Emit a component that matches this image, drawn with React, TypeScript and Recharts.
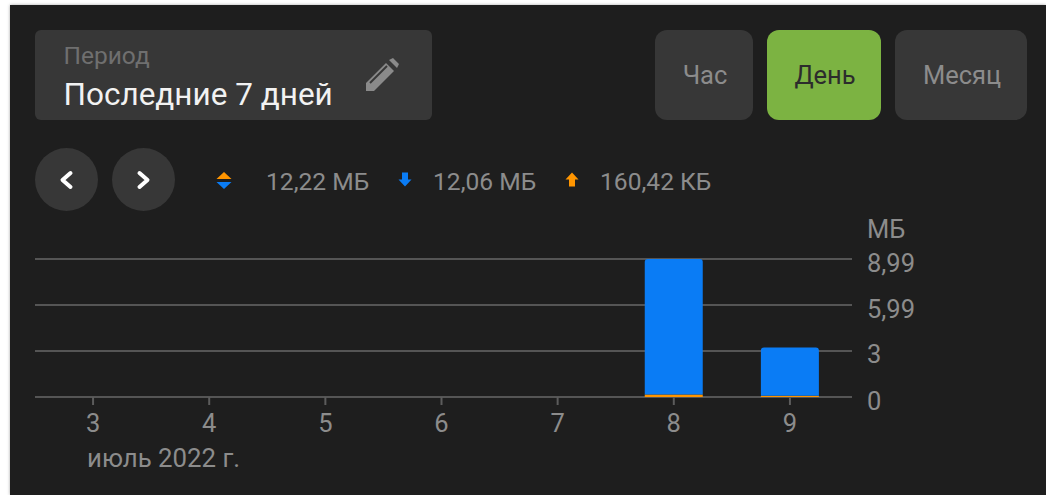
import React from 'react';
import { BarChart, Bar, XAxis, YAxis, CartesianGrid } from 'recharts';

const days = ['3', '4', '5', '6', '7', '8', '9'];
const upload = [0, 0, 0, 0, 0, 0.16, 0.08];
const download = [0, 0, 0, 0, 0, 8.83, 3.15];
const yTicks = [0, 3, 5.99, 8.99];
const data = days.map((d, i) => ({ day: d, upload: upload[i], download: download[i] }));

const font = 'Roboto, sans-serif';
const box = (l: number, t: number, w: number, h: number, bg: string, r: number): React.CSSProperties => ({
  position: 'absolute', left: l, top: t, width: w, height: h, background: bg, borderRadius: r,
});
const txt = (l: number, t: number, size: number, color: string): React.CSSProperties => ({
  position: 'absolute', left: l, top: t, fontSize: size, color, fontFamily: font, lineHeight: `${Math.round(size) + 4}px`, whiteSpace: 'nowrap',
});
const centered = (size: number, color: string): React.CSSProperties => ({
  display: 'flex', alignItems: 'center', justifyContent: 'center', fontSize: size, color, fontFamily: font, paddingLeft: 2, boxSizing: 'border-box',
});

const YTick = (p: any) => (
  <text x={867} y={p.y + 12.5} fill="#8c8c8c" fontSize={25.5} fontFamily={font} textAnchor="start">
    {String(p.payload.value).replace('.', ',')}
  </text>
);
const XTick = (p: any) => (
  <g>
    <line x1={p.x} x2={p.x} y1={397} y2={405} stroke="#5c5c5c" strokeWidth={2} />
    <text x={p.x} y={432} fill="#8c8c8c" fontSize={25.5} fontFamily={font} textAnchor="middle">
      {p.payload.value}
    </text>
  </g>
);

const Arrow = ({ x, y, color, up }: { x: number; y: number; color: string; up: boolean }) => (
  <svg style={{ position: 'absolute', left: x, top: y }} width={14} height={15} viewBox="0 0 14 15">
    <path d={up ? 'M7 0.5L13.5 7.5H10V14.5H4V7.5H0.5Z' : 'M7 14.5L13.5 7.5H10V0.5H4V7.5H0.5Z'} fill={color} />
  </svg>
);

export default function App() {
  return (
    <div style={{ position: 'absolute', left: 0, top: 0, width: 1046, height: 495, background: '#fff', overflow: 'hidden' }}>
      <div style={{ ...box(10, 5, 1036, 490, '#1e1e1e', 0), boxShadow: '0 0 3px rgba(0,0,0,0.35)' }} />

      <div style={box(35, 30, 397, 90, '#373737', 6)} />
      <div style={txt(63.5, 41, 24.5, '#6f6f6f')}>Период</div>
      <div style={txt(63.5, 77, 31.5, '#f2f2f2')}>Последние 7 дней</div>
      <svg style={{ position: 'absolute', left: 364, top: 57 }} width={36} height={36} viewBox="0 0 36 36">
        <path d="M2 26L22 6L30 14L10 34H2Z M25 3L29 1L35 7L33 11Z" fill="#8a8a8a" />
        <path d="M6 26L23 9" stroke="#373737" strokeWidth={2} />
      </svg>

      <div style={{ ...box(655, 30, 98, 90, '#373737', 12), ...centered(25.5, '#8c8c8c') }}>Час</div>
      <div style={{ ...box(767, 30, 114, 90, '#7cb342', 12), ...centered(25.5, '#2c2c2c') }}>День</div>
      <div style={{ ...box(895, 30, 132, 90, '#373737', 12), ...centered(25.5, '#8c8c8c') }}>Месяц</div>

      <div style={box(35, 148, 63, 63, '#373737', 32)} />
      <div style={box(112, 148, 63, 63, '#373737', 32)} />
      <svg style={{ position: 'absolute', left: 35, top: 148 }} width={140} height={63}>
        <path d="M35.5 25L27.5 32L35.5 39" fill="none" stroke="#fff" strokeWidth={4} strokeLinecap="round" strokeLinejoin="round" />
        <path d="M104.5 25L112.5 32L104.5 39" fill="none" stroke="#fff" strokeWidth={4} strokeLinecap="round" strokeLinejoin="round" />
      </svg>

      <svg style={{ position: 'absolute', left: 216, top: 171 }} width={16} height={20}>
        <path d="M8 1L15.5 8H0.5Z" fill="#ff9500" />
        <path d="M8 18L15.5 11H0.5Z" fill="#0a7cf5" />
      </svg>
      <div style={txt(266, 167, 24.6, '#8c8c8c')}>12,22 МБ</div>
      <Arrow x={398} y={172} color="#0a7cf5" up={false} />
      <div style={txt(433, 167, 24.6, '#8c8c8c')}>12,06 МБ</div>
      <Arrow x={565} y={172} color="#ff9500" up />
      <div style={txt(600, 167, 24.6, '#8c8c8c')}>160,42 КБ</div>

      <div style={{ position: 'absolute', left: 0, top: 0 }}>
        <BarChart width={1046} height={495} data={data} margin={{ top: 259, right: 193, bottom: 97, left: 35 }} barCategoryGap="25%">
          <CartesianGrid horizontal vertical={false} stroke="#555" strokeWidth={2} />
          <XAxis dataKey="day" height={1} padding={{ left: 0, right: 4 }} axisLine={false} tickLine={false} tick={<XTick />} interval={0} />
          <YAxis orientation="right" width={1} domain={[0, 8.99]} ticks={yTicks} axisLine={false} tickLine={false} tick={<YTick />} interval={0} />
          <Bar dataKey="upload" stackId="a" fill="#ff9500" isAnimationActive={false} />
          <Bar dataKey="download" stackId="a" fill="#0a7cf5" radius={[3, 3, 0, 0]} isAnimationActive={false} />
        </BarChart>
      </div>

      <div style={txt(867, 214, 25.5, '#8c8c8c')}>МБ</div>
      <div style={txt(87, 443, 25.8, '#8c8c8c')}>июль 2022 г.</div>
    </div>
  );
}
